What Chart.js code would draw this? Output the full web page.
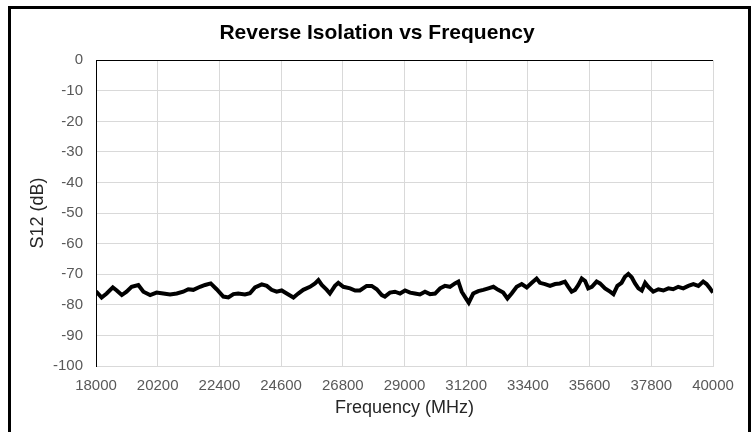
<!DOCTYPE html>
<html>
<head>
<meta charset="utf-8">
<script src="https://cdn.jsdelivr.net/npm/chart.js@4"></script>
<style>
  html, body { margin: 0; padding: 0; background: #fff; overflow: hidden; }
  #wrap { position: relative; width: 754px; height: 432px; overflow: hidden; }
  #frame { position: absolute; left: 8px; top: 6px; width: 743px; height: 500px; box-sizing: border-box; border: 3px solid #000; pointer-events: none; }
  canvas { position: absolute; left: 0; top: 0; }
</style>
</head>
<body>
<div id="wrap">
  <canvas id="c" width="754" height="432"></canvas>
  <div id="frame"></div>
</div>
<script>
const chartTitle = "Reverse Isolation vs Frequency";
const xTitle = "Frequency (MHz)";
const yTitle = "S12 (dB)";
const xTickValues = [18000, 20200, 22400, 24600, 26800, 29000, 31200, 33400, 35600, 37800, 40000];
const yTickValues = [0, -10, -20, -30, -40, -50, -60, -70, -80, -90, -100];

const frequencyMHz = [
  18000, 18200, 18380, 18600, 18740, 18920, 19090, 19270, 19510, 19690,
  19930, 20160, 20400, 20640, 20880, 21110, 21290, 21470, 21710, 21890,
  22090, 22300, 22540, 22720, 22900, 23070, 23310, 23490, 23670, 23910,
  24090, 24260, 24440, 24620, 24800, 25040, 25210, 25390, 25630, 25810,
  25930, 26050, 26230, 26340, 26520, 26640, 26820, 27060, 27240, 27410,
  27650, 27830, 28010, 28190, 28300, 28480, 28660, 28840, 29020, 29200,
  29370, 29550, 29730, 29910, 30090, 30270, 30440, 30620, 30800, 30920,
  31040, 31190, 31290, 31450, 31630, 31810, 31990, 32170, 32340, 32520,
  32670, 32820, 33000, 33180, 33360, 33540, 33710, 33830, 34010, 34190,
  34370, 34540, 34720, 34840, 34960, 35080, 35200, 35320, 35440, 35550,
  35680, 35850, 35970, 36150, 36330, 36450, 36590, 36740, 36860, 36980,
  37100, 37220, 37340, 37460, 37580, 37690, 37870, 38050, 38230, 38410,
  38580, 38760, 38940, 39120, 39300, 39480, 39650, 39770, 39890, 40000
];
const s12dB = [
  -75.6, -77.6, -76.3, -74.3, -75.3, -76.8, -75.7, -74.1, -73.5, -75.7,
  -76.8, -76.0, -76.3, -76.6, -76.3, -75.7, -74.9, -75.1, -74.1, -73.5,
  -73.0, -74.9, -77.3, -77.6, -76.5, -76.3, -76.6, -76.2, -74.3, -73.3,
  -73.8, -75.1, -75.7, -75.3, -76.3, -77.6, -76.3, -75.1, -74.1, -73.0,
  -71.9, -73.5, -75.1, -76.3, -73.8, -72.8, -74.1, -74.6, -75.3, -75.3,
  -73.8, -73.8, -74.9, -76.8, -77.3, -76.0, -75.7, -76.3, -75.3, -76.0,
  -76.3, -76.6, -75.7, -76.5, -76.3, -74.6, -73.8, -74.1, -73.0, -72.4,
  -75.7, -77.9, -79.3, -76.3, -75.5, -75.1, -74.6, -74.1, -75.1, -76.0,
  -77.9, -76.3, -74.1, -73.2, -74.3, -72.8, -71.4, -72.8, -73.2, -73.8,
  -73.2, -73.0, -72.4, -74.1, -75.7, -75.1, -73.5, -71.4, -72.2, -74.6,
  -74.1, -72.4, -73.0, -74.6, -75.7, -76.5, -73.8, -72.8, -70.8, -69.9,
  -71.0, -73.0, -74.6, -75.3, -72.8, -74.1, -75.7, -74.9, -75.3, -74.6,
  -74.9, -74.1, -74.6, -73.8, -73.2, -73.8, -72.4, -73.2, -74.6, -76.0
];

const FONT = "'Liberation Sans', Arial, sans-serif";
const points = frequencyMHz.map((f, i) => ({ x: f, y: s12dB[i] }));

new Chart(document.getElementById('c'), {
  type: 'line',
  data: {
    datasets: [{
      data: points,
      borderColor: '#000000',
      backgroundColor: '#000000',
      borderWidth: 4,
      pointRadius: 0,
      tension: 0,
      fill: false
    }]
  },
  options: {
    responsive: false,
    animation: false,
    devicePixelRatio: 1,
    layout: { padding: { left: 0, right: 0, top: 0, bottom: 0 } },
    plugins: {
      legend: { display: false },
      tooltip: { enabled: false },
      title: {
        display: true,
        text: chartTitle,
        color: '#000000',
        font: { family: FONT, size: 21, weight: 'bold' },
        padding: { top: 21, bottom: 14 }
      }
    },
    scales: {
      x: {
        type: 'linear',
        min: 18000,
        max: 40000,
        afterBuildTicks: (scale) => { scale.ticks = xTickValues.map(v => ({ value: v })); },
        afterFit: (scale) => { scale.height = 66; },
        ticks: {
          color: '#595959',
          font: { family: FONT, size: 15 },
          padding: 11,
          maxRotation: 0,
          autoSkip: false,
          callback: (v) => String(v)
        },
        grid: { color: '#d9d9d9', lineWidth: 1, drawTicks: false },
        border: { color: '#d9d9d9', width: 1 },
        title: {
          display: true,
          text: xTitle,
          color: '#262626',
          font: { family: FONT, size: 18 },
          padding: { top: 0, bottom: 13 }
        }
      },
      y: {
        type: 'linear',
        position: 'left',
        min: -100,
        max: 0,
        afterBuildTicks: (scale) => { scale.ticks = yTickValues.slice().reverse().map(v => ({ value: v })); },
        afterFit: (scale) => { scale.width = 96; },
        ticks: {
          color: '#595959',
          font: { family: FONT, size: 15 },
          padding: 13,
          callback: (v) => String(v)
        },
        grid: {
          color: (ctx) => (ctx.tick && ctx.tick.value === 0) ? '#000000' : '#d9d9d9',
          lineWidth: 1,
          drawTicks: false
        },
        border: { color: '#000000', width: 1 },
        title: {
          display: true,
          text: yTitle,
          color: '#262626',
          font: { family: FONT, size: 18 },
          padding: { top: 27, bottom: 0 }
        }
      },
      yRightSpace: {
        type: 'linear',
        position: 'right',
        min: -100,
        max: 0,
        afterFit: (scale) => { scale.width = 41; },
        ticks: { display: false },
        grid: { display: false, drawOnChartArea: false },
        border: { display: false }
      }
    }
  }
});
</script>
</body>
</html>
